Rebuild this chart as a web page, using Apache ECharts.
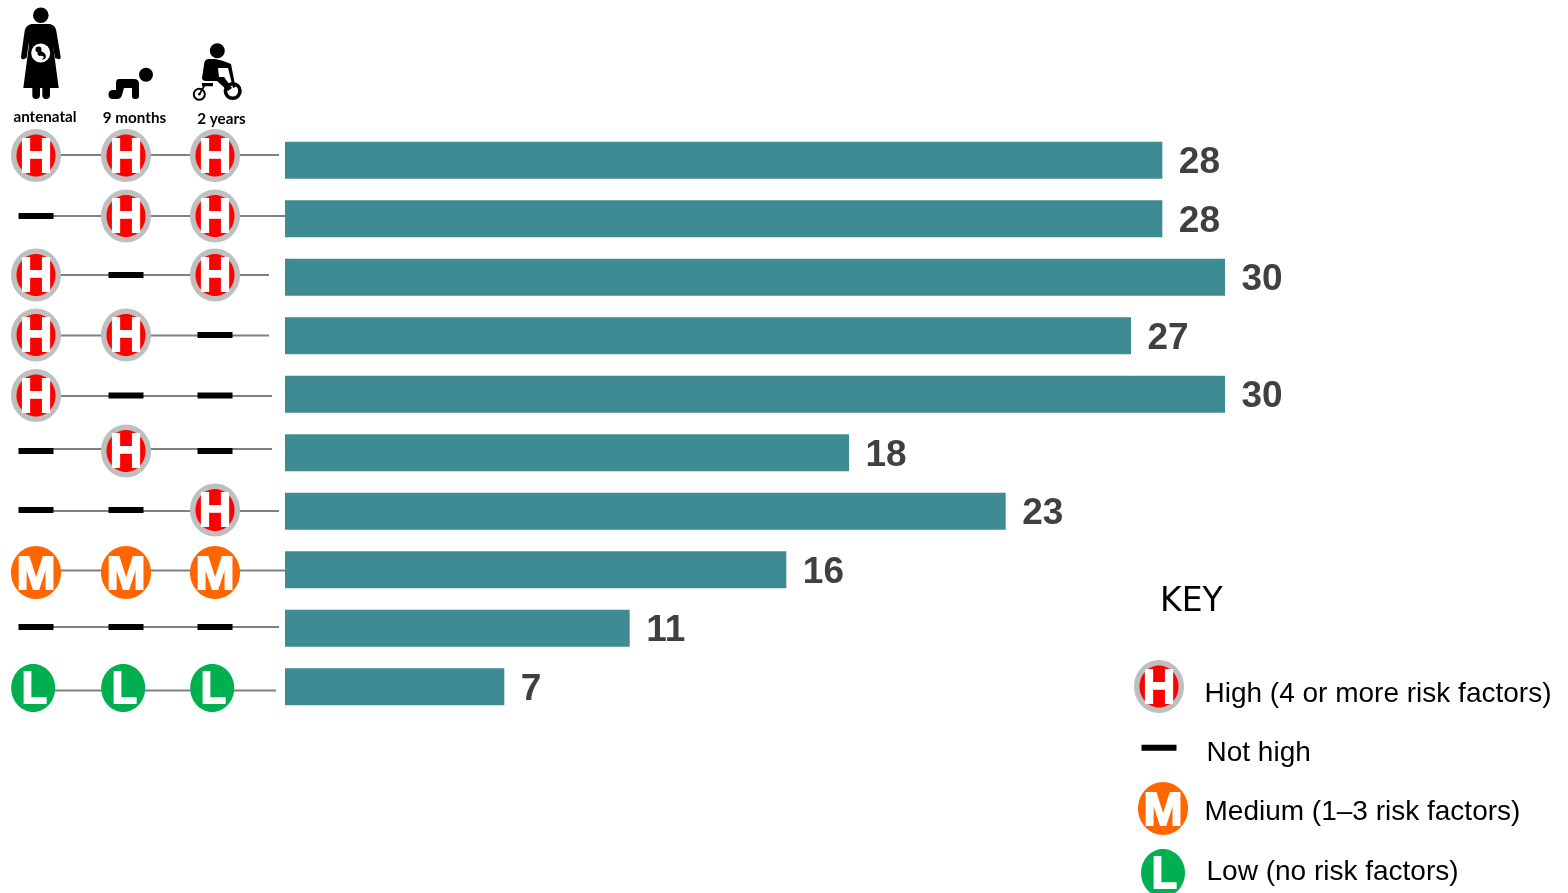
<!DOCTYPE html>
<html>
<head>
<meta charset="utf-8">
<title>Risk trajectories</title>
<script src="https://cdn.jsdelivr.net/npm/echarts@6/dist/echarts.min.js"></script>
<style>
  html, body { margin: 0; padding: 0; background: #fff; }
  #chart { width: 1568px; height: 893px; }
</style>
</head>
<body>
<div id="chart"></div>
<script>
// Outcome value for each risk trajectory, top row first
const rowValues = [28, 28, 30, 27, 30, 18, 23, 16, 11, 7];

// Risk level at each assessment: H high, N not high, M medium, L low
const antenatalRisk = ['H', 'N', 'H', 'H', 'H', 'N', 'N', 'M', 'N', 'L'];
const nineMonthRisk = ['H', 'H', 'N', 'H', 'N', 'H', 'N', 'M', 'N', 'L'];
const twoYearRisk   = ['H', 'H', 'H', 'N', 'N', 'N', 'H', 'M', 'N', 'L'];

const stageLabels = ['antenatal', '9 months', '2 years'];
const keyTitle = 'KEY';
const keyLabels = ['High (4 or more risk factors)', 'Not high', 'Medium (1–3 risk factors)', 'Low (no risk factors)'];

const stages = [antenatalRisk, nineMonthRisk, twoYearRisk];
const rowIndexes = rowValues.map((_, i) => i);

// Hand-placed look of the marker rows: vertical nudge, connector nudge, connector tail
const rowNudge = [-4.75, -2.75, -2.25, -0.75, 1.25, -1.75, -1.25, 2.75, -1.25, 1.25];
const lineNudge = [-0.5, 0, 0, 0.5, 0.5, -2, 1, -2, 0, 2.5];
const lineTail = [64, 70, 54, 54, 57, 57, 64, 70, 64, 61];
const columnNudge = [0, 0.5, 0];

const ARIAL = '"Liberation Sans", Arial, sans-serif';

function letter(text, size, scaleX, dy, dx) {
  return {
    type: 'group', x: dx || 0, y: dy || 0, scaleX: scaleX,
    children: [{
      type: 'text',
      style: {
        text: text, x: 0, y: 0, fill: '#fff', stroke: '#fff', lineWidth: 1.8,
        fontFamily: ARIAL, fontWeight: 'bold', fontSize: size,
        align: 'center', verticalAlign: 'middle',
        textAlign: 'center', textVerticalAlign: 'middle'
      }
    }]
  };
}

// One risk marker centred on (cx, cy)
function riskMarker(level, cx, cy) {
  let children;
  if (level === 'H') {
    children = [
      { type: 'ellipse', shape: { cx: 0, cy: 0, rx: 25, ry: 26.5 }, style: { fill: '#BFBFBF' } },
      { type: 'ellipse', shape: { cx: 0, cy: 0, rx: 19.5, ry: 21 }, style: { fill: '#FF0000' } },
      letter('H', 49, 0.92, 2.5)
    ];
  } else if (level === 'M') {
    children = [
      { type: 'ellipse', shape: { cx: 0, cy: 0, rx: 25, ry: 26.5 }, style: { fill: '#FF6600' } },
      letter('M', 47, 1, 3.2)
    ];
  } else if (level === 'L') {
    children = [
      { type: 'ellipse', shape: { cx: -2.8, cy: 0, rx: 22, ry: 24 }, style: { fill: '#00B050' } },
      letter('L', 45, 0.92, 3, -1.5)
    ];
  } else {
    children = [
      { type: 'rect', shape: { x: -17.5, y: -3, width: 35, height: 6 }, style: { fill: '#000' } }
    ];
  }
  return { type: 'group', x: cx, y: cy, children: children };
}

function renderRow(params, api) {
  const row = api.value(0);
  const pts = stages.map((s, col) => api.coord([col, row]));
  const y = pts[0][1] + rowNudge[row];
  const line = {
    type: 'line',
    shape: { x1: pts[0][0], y1: y + lineNudge[row], x2: pts[2][0] + lineTail[row], y2: y + lineNudge[row] },
    style: { stroke: '#808080', lineWidth: 1.8 }
  };
  return {
    type: 'group',
    children: [line].concat(stages.map((s, col) => riskMarker(s[row], pts[col][0] + columnNudge[col], y)))
  };
}

// Stage pictograms
function blackPath(d) {
  return { type: 'path', shape: { pathData: d }, style: { fill: '#000' } };
}
function disc(cx, cy, r, fill) {
  return { type: 'circle', shape: { cx: cx, cy: cy, r: r }, style: { fill: fill || '#000' } };
}
function ring(cx, cy, r, width) {
  return { type: 'circle', shape: { cx: cx, cy: cy, r: r }, style: { fill: 'none', stroke: '#000', lineWidth: width } };
}
function renderPictograms() {
  return {
    type: 'group',
    children: [
      // mother
      disc(40.8, 15.3, 7.8),
      blackPath('M31 24H50C53 25 53 27 53 32L53 45L58.7 88H23.3L29 45L29 32C29 27 29 25 31 24Z'),
      blackPath('M30 24.5C26.5 25.5 25 29 24.5 32L21 57Q21 60 24 59L26.5 58L30 36Z'),
      blackPath('M51 24.5C55 25.5 56 29 56.5 32L60.7 57Q60.7 60 58 59L55 58L51 36Z'),
      blackPath('M32.3 85H40V95Q40 99 36 99Q32.3 99 32.3 95Z'),
      blackPath('M42.3 85H50V95Q50 99 46 99Q42.3 99 42.3 95Z'),
      disc(40.7, 53, 9.5, '#fff'),
      disc(38.5, 49.5, 3),
      blackPath('M37 53L41 51Q46 53 46 57Q45 60 42 59.5L44 57Q42 55 39 56Z'),
      // crawling baby
      disc(146, 74.7, 7),
      blackPath('M119 79H134Q139 79 139 84L139 96Q139 99 136 99H135Q132 99 132 96L132 88H124L122 95Q121 99 117 99H113Q108.5 99 108.5 94.5Q108.5 90 113 90H116L116 83Q116 79 119 79Z'),
      // toddler on a tricycle
      disc(217.3, 50.7, 7.5),
      blackPath('M208 59Q204 60 204 65L202 78Q202 81 206 81L217 81L228 91L232 88L224 77H219L218 68H226L228 68L233 88L235.5 87L231 64Q222 60 215 59Z'),
      ring(232.7, 91, 7.3, 3.6),
      ring(199.3, 94.3, 5.5, 2),
      disc(199.3, 94.3, 1.2),
      blackPath('M202 83H213V86.3H205L200 95L198.5 94L203 86.3H202Z')
    ]
  };
}

function stageText(text, cx, cy) {
  return {
    type: 'text',
    style: {
      text: text, x: cx, y: cy, fill: '#000', fontFamily: 'Lato, sans-serif', fontWeight: 'bold', fontSize: 15.2,
      align: 'center', verticalAlign: 'middle', textAlign: 'center', textVerticalAlign: 'middle'
    }
  };
}
function keyText(text, x, bottom) {
  return {
    type: 'text',
    style: {
      text: text, x: x, y: bottom, fill: '#000', fontFamily: ARIAL, fontSize: 28,
      align: 'left', verticalAlign: 'bottom', textAlign: 'left', textVerticalAlign: 'bottom'
    }
  };
}

const chart = echarts.init(document.getElementById('chart'), null, { renderer: 'canvas' });
chart.setOption({
  animation: false,
  backgroundColor: '#fff',
  tooltip: { show: false },
  grid: [
    { left: 285, top: 131, width: 940, height: 585 },
    { left: 36, top: 131, width: 179, height: 585 }
  ],
  xAxis: [
    { gridIndex: 0, type: 'value', min: 0, max: 30, show: false },
    { gridIndex: 1, type: 'value', min: 0, max: 2, show: false }
  ],
  yAxis: [
    { gridIndex: 0, type: 'category', inverse: true, data: rowIndexes, show: false },
    { gridIndex: 1, type: 'category', inverse: true, data: rowIndexes, show: false }
  ],
  series: [
    {
      type: 'bar',
      xAxisIndex: 0, yAxisIndex: 0,
      data: rowValues,
      barWidth: 37,
      silent: true,
      itemStyle: { color: '#3E8B94' },
      label: {
        show: true, position: 'right', distance: 16, offset: [0.5, 3],
        color: '#404040', fontFamily: ARIAL, fontWeight: 'bold', fontSize: 37
      }
    },
    {
      type: 'custom',
      xAxisIndex: 1, yAxisIndex: 1,
      coordinateSystem: 'cartesian2d',
      clip: false,
      silent: true,
      renderItem: renderRow,
      encode: { x: 1, y: 0 },
      data: rowIndexes.map(i => [i, 0])
    },
    {
      type: 'custom',
      coordinateSystem: 'none',
      silent: true,
      renderItem: renderPictograms,
      data: [[0]]
    }
  ],
  graphic: { elements: [
    stageText(stageLabels[0], 45, 117),
    stageText(stageLabels[1], 134.5, 118),
    stageText(stageLabels[2], 221.5, 119),
    {
      type: 'text',
      style: {
        text: keyTitle, x: 1160, y: 602, fill: '#000', fontFamily: '"DejaVu Sans", sans-serif', fontSize: 33,
        align: 'left', verticalAlign: 'middle', textAlign: 'left', textVerticalAlign: 'middle'
      }
    },
    riskMarker('H', 1159, 686.5),
    riskMarker('N', 1159, 747.7),
    riskMarker('M', 1163, 808.5),
    riskMarker('L', 1165.8, 873),
    keyText(keyLabels[0], 1204.5, 708),
    keyText(keyLabels[1], 1206.5, 767),
    keyText(keyLabels[2], 1204.5, 826),
    keyText(keyLabels[3], 1206.5, 886)
  ] }
});
</script>
</body>
</html>
